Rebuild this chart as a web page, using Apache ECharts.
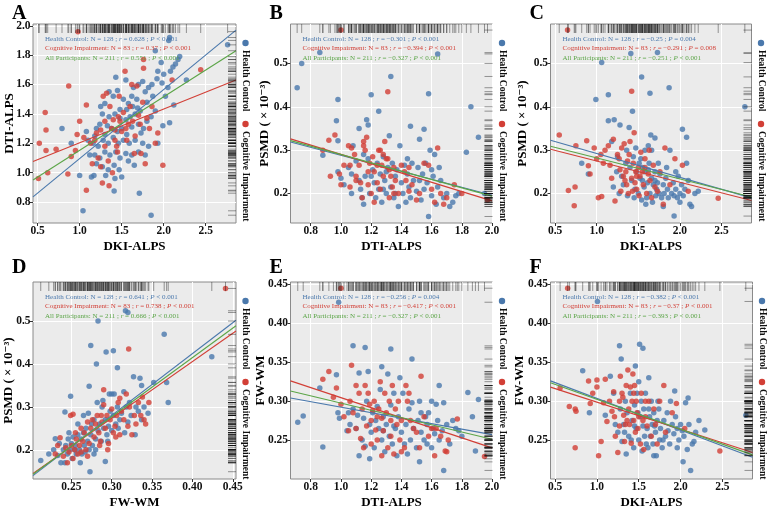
<!DOCTYPE html>
<html>
<head>
<meta charset="utf-8">
<script src="https://cdn.jsdelivr.net/npm/echarts@6/dist/echarts.min.js"></script>
<style>
html, body { margin: 0; padding: 0; background: #fff; }
#main { width: 767px; height: 510px; }
</style>
</head>
<body>
<div id="main"></div>
<script>
// ---- data ----
// A: DKI-ALPS (x) vs DTI-ALPS (y)
var hcA = [[2.76,1.87],[2.07,1.92],[2.06,1.90],[2.19,1.79],[2.17,1.77],[2.14,1.74],[2.11,1.72],[2.08,1.69],[1.97,1.75],[1.9,1.83],[1.93,1.69],[2.0,1.67],[1.92,1.64],[1.86,1.6],[1.98,1.61],[2.05,1.58],[1.82,1.58],[1.75,1.62],[1.7,1.6],[1.64,1.58],[1.78,1.55],[1.87,1.52],[2.02,1.52],[2.27,1.63],[2.12,1.46],[2.07,1.34],[1.99,1.32],
  [1.55,1.63],[1.43,1.65],[1.35,1.55],[1.4,1.52],[1.45,1.56],[1.52,1.5],[1.58,1.47],[1.63,1.45],[1.69,1.44],[1.72,1.42],[1.66,1.4],[1.6,1.38],[1.55,1.36],[1.48,1.37],[1.42,1.4],[1.35,1.38],[1.3,1.47],[1.27,1.4],[1.2,1.3],[1.24,1.33],[1.33,1.32],[1.38,1.3],[1.45,1.28],[1.5,1.3],[1.56,1.26],[1.62,1.31],[1.7,1.33],[1.76,1.3],[1.8,1.35],[1.85,1.38],[1.9,1.42],[1.73,1.27],[1.66,1.22],[1.59,1.2],[1.52,1.22],[1.46,1.2],[1.4,1.24],[1.34,1.2],[1.28,1.22],[1.22,1.18],[1.16,1.2],[1.1,1.22],[1.18,1.12],[1.24,1.1],[1.3,1.14],[1.36,1.12],[1.43,1.14],[1.48,1.1],[1.55,1.13],[1.62,1.12],[1.7,1.14],[1.78,1.12],[1.82,1.18],[1.75,1.2],[1.2,1.06],[1.27,1.04],[1.34,1.02],[1.41,1.05],[1.47,1.02],[1.5,0.97],[1.42,0.96],[1.31,0.98],[1.17,0.98],[1.14,0.97],[1.0,0.98],[0.79,1.3],[0.9,1.2],[1.08,1.28],[1.41,0.875],[1.71,0.86],[1.04,0.74],[1.85,0.71],[1.65,1.05],[1.58,1.08],[1.93,1.2],[1.3,1.26],[1.48,1.43],[1.56,1.43],[1.62,1.52],[1.18,1.25],[1.12,1.12],[1.25,1.45],[1.8,1.48],[1.68,1.5]];
var ciA = [[0.98,1.96],[0.87,1.59],[0.59,1.41],[0.6,1.29],[0.52,1.2],[0.6,1.15],[0.51,0.96],[0.62,1.0],[0.86,0.99],[0.72,1.16],[0.9,1.11],[0.95,1.15],[0.97,1.26],[1.0,1.35],[1.05,1.24],[1.08,1.46],[1.08,0.88],[1.13,1.2],[1.15,1.06],[1.2,1.27],[1.22,1.1],[1.25,1.29],[1.27,0.93],[1.28,1.52],[1.3,1.18],[1.32,1.54],[1.34,1.08],[1.35,0.91],[1.36,1.45],[1.38,1.3],[1.39,1.0],[1.4,1.36],[1.42,1.22],[1.44,1.18],[1.45,1.14],[1.46,1.38],[1.47,1.52],[1.48,1.35],[1.5,1.28],[1.52,1.41],[1.54,1.69],[1.55,1.3],[1.56,1.22],[1.58,1.33],[1.6,1.45],[1.62,1.6],[1.63,1.35],[1.65,1.13],[1.66,1.25],[1.68,1.59],[1.7,1.39],[1.72,1.33],[1.73,1.13],[1.75,1.48],[1.76,1.77],[1.76,1.71],[1.78,1.06],[1.8,1.37],[1.83,1.3],[1.86,1.45],[1.9,1.2],[1.93,1.27],[1.99,1.05],[2.1,1.63],[2.44,1.70],[1.3,1.35],[1.18,1.22],[1.42,1.29],[1.25,1.04]];

// B: DTI-ALPS (x) vs PSMD (y)
var hcB = [[0.74,0.50],[0.71,0.444],[0.86,0.525],[0.98,0.417],[0.97,0.368],[0.98,0.322],[0.88,0.288],[0.98,0.25],[1.0,0.235],[1.02,0.22],[1.05,0.26],[1.07,0.245],[1.08,0.31],[1.1,0.275],[1.12,0.35],[1.13,0.21],[1.14,0.19],[1.15,0.175],[1.16,0.24],[1.17,0.37],[1.18,0.358],[1.18,0.28],[1.19,0.2],[1.2,0.428],[1.21,0.255],[1.22,0.225],[1.23,0.19],[1.24,0.27],[1.25,0.39],[1.25,0.21],[1.26,0.245],[1.27,0.18],[1.28,0.285],[1.29,0.23],[1.3,0.2],[1.31,0.26],[1.32,0.333],[1.33,0.47],[1.33,0.215],[1.34,0.27],[1.35,0.19],[1.36,0.24],[1.37,0.255],[1.38,0.17],[1.39,0.31],[1.4,0.225],[1.41,0.2],[1.42,0.265],[1.43,0.18],[1.44,0.245],[1.45,0.215],[1.46,0.355],[1.46,0.19],[1.47,0.27],[1.48,0.23],[1.5,0.205],[1.51,0.26],[1.52,0.325],[1.53,0.185],[1.54,0.245],[1.55,0.348],[1.55,0.21],[1.56,0.27],[1.57,0.225],[1.58,0.43],[1.58,0.147],[1.59,0.3],[1.6,0.195],[1.61,0.24],[1.62,0.29],[1.63,0.175],[1.64,0.522],[1.64,0.215],[1.65,0.26],[1.66,0.23],[1.68,0.19],[1.7,0.2],[1.72,0.17],[1.74,0.18],[1.76,0.195],[1.78,0.2],[1.83,0.295],[1.86,0.4],[1.91,0.33],[1.95,0.2],[1.12,0.23],[1.2,0.24],[1.28,0.21],[1.36,0.2],[1.44,0.28],[1.52,0.23],[1.6,0.255],[1.15,0.29],[1.07,0.2],[1.3,0.25]];
var ciB = [[1.0,0.577],[1.31,0.435],[0.88,0.3],[0.92,0.323],[0.93,0.24],[0.96,0.335],[0.99,0.245],[1.0,0.22],[1.02,0.265],[1.05,0.31],[1.06,0.265],[1.07,0.305],[1.09,0.29],[1.1,0.24],[1.12,0.265],[1.13,0.225],[1.15,0.32],[1.15,0.31],[1.16,0.3],[1.17,0.33],[1.18,0.22],[1.19,0.27],[1.2,0.2],[1.21,0.285],[1.22,0.25],[1.22,0.18],[1.24,0.225],[1.25,0.3],[1.26,0.21],[1.27,0.265],[1.28,0.29],[1.28,0.24],[1.29,0.32],[1.3,0.28],[1.31,0.28],[1.32,0.19],[1.33,0.24],[1.34,0.215],[1.35,0.26],[1.36,0.23],[1.38,0.2],[1.4,0.265],[1.42,0.25],[1.43,0.23],[1.45,0.26],[1.47,0.22],[1.5,0.185],[1.52,0.2],[1.55,0.27],[1.58,0.265],[1.6,0.21],[1.62,0.18],[1.64,0.305],[1.66,0.2],[1.68,0.175],[1.7,0.19],[1.75,0.22],[1.8,0.2],[1.97,0.185],[1.1,0.23],[1.18,0.25],[1.24,0.265],[1.35,0.2],[1.26,0.3],[1.45,0.205],[1.06,0.215],[1.14,0.19],[1.32,0.255]];

// C: DKI-ALPS (x) vs PSMD (y)
var hcC = [[1.06,0.502],[1.41,0.523],[1.73,0.525],[1.54,0.469],[1.87,0.444],[1.64,0.431],[0.99,0.417],[1.14,0.428],[1.43,0.39],[2.78,0.4],[1.14,0.368],[1.21,0.37],[1.28,0.358],[1.39,0.352],[2.03,0.348],[2.08,0.33],[1.65,0.335],[1.7,0.328],[1.62,0.31],[1.18,0.32],[1.58,0.3],[0.82,0.27],[0.9,0.245],[1.93,0.148],[1.2,0.215],[1.24,0.25],[1.27,0.2],[1.3,0.24],[1.32,0.22],[1.35,0.27],[1.37,0.195],[1.4,0.26],[1.42,0.23],[1.44,0.285],[1.46,0.21],[1.48,0.25],[1.5,0.2],[1.51,0.27],[1.52,0.235],[1.54,0.185],[1.55,0.26],[1.57,0.215],[1.58,0.25],[1.6,0.19],[1.61,0.225],[1.63,0.27],[1.64,0.2],[1.66,0.235],[1.67,0.18],[1.68,0.22],[1.7,0.25],[1.71,0.195],[1.72,0.21],[1.73,0.225],[1.75,0.2],[1.76,0.245],[1.78,0.19],[1.8,0.22],[1.81,0.2],[1.83,0.235],[1.85,0.21],[1.86,0.19],[1.88,0.3],[1.9,0.2],[1.92,0.225],[1.93,0.195],[1.95,0.21],[1.97,0.19],[1.98,0.24],[2.0,0.2],[2.02,0.22],[2.04,0.195],[2.06,0.21],[2.08,0.27],[2.1,0.23],[2.12,0.175],[2.14,0.17],[2.18,0.2],[2.22,0.205],[1.47,0.305],[1.53,0.28],[1.74,0.27],[1.84,0.26],[1.95,0.25],[1.66,0.3],[1.36,0.3],[1.59,0.175],[1.8,0.17],[1.45,0.19],[1.62,0.255],[1.7,0.23],[1.55,0.23],[2.0,0.18],[1.25,0.285]];
var ciC = [[0.65,0.577],[1.42,0.436],[0.55,0.335],[2.46,0.189],[0.73,0.172],[0.66,0.207],[0.74,0.215],[0.75,0.31],[0.88,0.322],[0.9,0.264],[0.92,0.245],[0.97,0.305],[1.0,0.28],[1.02,0.19],[1.05,0.29],[1.06,0.193],[1.08,0.27],[1.1,0.3],[1.14,0.31],[1.16,0.265],[1.2,0.325],[1.22,0.183],[1.25,0.29],[1.27,0.28],[1.29,0.205],[1.3,0.305],[1.32,0.24],[1.33,0.315],[1.35,0.25],[1.36,0.22],[1.37,0.275],[1.38,0.2],[1.4,0.32],[1.42,0.235],[1.44,0.27],[1.45,0.34],[1.46,0.225],[1.47,0.25],[1.48,0.21],[1.5,0.26],[1.52,0.24],[1.53,0.295],[1.55,0.25],[1.56,0.22],[1.58,0.26],[1.6,0.2],[1.62,0.245],[1.64,0.23],[1.66,0.19],[1.68,0.265],[1.7,0.215],[1.73,0.205],[1.76,0.25],[1.8,0.175],[1.82,0.305],[1.88,0.22],[1.94,0.28],[2.03,0.265],[2.1,0.205],[1.34,0.23],[1.43,0.205],[1.51,0.195],[1.28,0.255],[1.39,0.29],[1.58,0.28],[1.63,0.3],[1.18,0.235],[1.48,0.24]];

// D: FW-WM (x) vs PSMD (y)
var hcD = [[0.283,0.5],[0.317,0.524],[0.32,0.52],[0.365,0.469],[0.274,0.443],[0.293,0.428],[0.302,0.431],[0.281,0.4],[0.307,0.391],[0.424,0.417],[0.368,0.357],[0.352,0.357],[0.37,0.31],[0.272,0.348],[0.249,0.325],[0.242,0.288],[0.212,0.175],[0.273,0.149],[0.292,0.173],[0.222,0.19],[0.228,0.2],[0.23,0.226],[0.233,0.187],[0.235,0.215],[0.237,0.17],[0.24,0.2],[0.242,0.17],[0.243,0.21],[0.245,0.19],[0.246,0.225],[0.248,0.2],[0.25,0.215],[0.251,0.18],[0.252,0.23],[0.254,0.2],[0.255,0.21],[0.256,0.19],[0.258,0.235],[0.26,0.2],[0.262,0.225],[0.263,0.19],[0.265,0.24],[0.266,0.21],[0.267,0.195],[0.268,0.25],[0.27,0.22],[0.271,0.285],[0.272,0.2],[0.274,0.235],[0.275,0.26],[0.276,0.21],[0.278,0.27],[0.28,0.225],[0.282,0.31],[0.283,0.245],[0.285,0.26],[0.287,0.22],[0.288,0.3],[0.29,0.25],[0.292,0.27],[0.294,0.235],[0.296,0.255],[0.297,0.33],[0.298,0.29],[0.3,0.33],[0.302,0.28],[0.303,0.33],[0.305,0.26],[0.307,0.3],[0.308,0.25],[0.31,0.27],[0.312,0.285],[0.315,0.335],[0.318,0.3],[0.32,0.265],[0.322,0.31],[0.324,0.28],[0.327,0.37],[0.33,0.3],[0.333,0.29],[0.335,0.367],[0.337,0.35],[0.337,0.27],[0.34,0.3],[0.345,0.285],[0.329,0.235],[0.258,0.26],[0.247,0.24],[0.28,0.2],[0.289,0.315],[0.295,0.22],[0.316,0.24],[0.265,0.28],[0.278,0.19],[0.3,0.245],[0.261,0.17]];
var ciD = [[0.441,0.576],[0.321,0.435],[0.29,0.34],[0.346,0.31],[0.338,0.323],[0.249,0.28],[0.252,0.283],[0.23,0.19],[0.233,0.21],[0.236,0.228],[0.24,0.185],[0.243,0.205],[0.245,0.17],[0.247,0.195],[0.25,0.21],[0.252,0.18],[0.254,0.2],[0.256,0.225],[0.258,0.19],[0.26,0.21],[0.262,0.25],[0.264,0.22],[0.266,0.24],[0.268,0.2],[0.27,0.265],[0.272,0.215],[0.274,0.25],[0.276,0.27],[0.278,0.23],[0.28,0.26],[0.282,0.28],[0.284,0.24],[0.286,0.22],[0.288,0.265],[0.29,0.305],[0.292,0.25],[0.294,0.28],[0.296,0.215],[0.298,0.27],[0.3,0.295],[0.302,0.24],[0.304,0.255],[0.306,0.28],[0.308,0.31],[0.31,0.235],[0.312,0.29],[0.315,0.27],[0.318,0.33],[0.32,0.255],[0.322,0.3],[0.325,0.235],[0.328,0.28],[0.33,0.26],[0.333,0.31],[0.336,0.28],[0.34,0.27],[0.342,0.26],[0.305,0.23],[0.285,0.21],[0.27,0.185],[0.295,0.2],[0.262,0.195],[0.255,0.24],[0.31,0.32],[0.287,0.28]];

// E: DTI-ALPS (x) vs FW-WM (y)
var hcE = [[0.985,0.427],[1.08,0.371],[1.16,0.369],[1.33,0.367],[1.47,0.354],[0.714,0.273],[0.75,0.281],[0.88,0.241],[0.86,0.317],[0.97,0.334],[1.84,0.311],[1.91,0.302],[1.87,0.28],[1.89,0.236],[1.68,0.211],[1.52,0.222],[1.65,0.32],[0.98,0.285],[0.99,0.278],[1.04,0.262],[1.06,0.27],[1.08,0.29],[1.1,0.265],[1.12,0.23],[1.12,0.336],[1.14,0.25],[1.15,0.278],[1.16,0.242],[1.17,0.3],[1.18,0.338],[1.19,0.27],[1.2,0.26],[1.21,0.285],[1.22,0.24],[1.23,0.275],[1.25,0.265],[1.26,0.315],[1.27,0.344],[1.27,0.25],[1.28,0.28],[1.29,0.235],[1.3,0.27],[1.31,0.335],[1.32,0.255],[1.33,0.295],[1.34,0.245],[1.35,0.31],[1.36,0.265],[1.37,0.23],[1.38,0.28],[1.39,0.33],[1.4,0.26],[1.41,0.31],[1.42,0.245],[1.43,0.27],[1.45,0.29],[1.46,0.25],[1.47,0.298],[1.48,0.265],[1.5,0.24],[1.51,0.275],[1.52,0.3],[1.53,0.26],[1.55,0.25],[1.56,0.28],[1.57,0.27],[1.58,0.285],[1.6,0.3],[1.6,0.24],[1.61,0.265],[1.62,0.258],[1.63,0.296],[1.64,0.275],[1.65,0.25],[1.67,0.262],[1.68,0.298],[1.7,0.27],[1.72,0.245],[1.74,0.275],[1.76,0.265],[1.78,0.262],[1.8,0.255],[1.24,0.293],[1.11,0.282],[1.35,0.268],[1.44,0.232],[1.53,0.285],[1.19,0.226],[1.28,0.262],[1.57,0.245],[1.05,0.285]];
var ciE = [[1.0,0.445],[1.07,0.346],[0.92,0.338],[0.88,0.328],[1.95,0.229],[1.69,0.236],[1.7,0.235],[1.71,0.25],[1.77,0.277],[1.53,0.332],[0.95,0.305],[0.97,0.317],[1.0,0.296],[1.02,0.28],[1.05,0.262],[1.06,0.3],[1.08,0.285],[1.1,0.32],[1.12,0.31],[1.13,0.252],[1.14,0.29],[1.15,0.24],[1.16,0.32],[1.17,0.268],[1.18,0.31],[1.19,0.296],[1.2,0.275],[1.21,0.288],[1.22,0.3],[1.23,0.263],[1.24,0.25],[1.25,0.29],[1.26,0.325],[1.27,0.278],[1.28,0.262],[1.29,0.31],[1.3,0.285],[1.31,0.24],[1.32,0.3],[1.33,0.275],[1.34,0.32],[1.35,0.232],[1.36,0.29],[1.37,0.27],[1.38,0.3],[1.39,0.25],[1.4,0.275],[1.42,0.24],[1.43,0.32],[1.44,0.3],[1.46,0.275],[1.48,0.265],[1.5,0.26],[1.52,0.24],[1.55,0.28],[1.58,0.255],[1.6,0.265],[1.62,0.23],[1.63,0.265],[1.66,0.255],[1.27,0.23],[1.2,0.245],[1.1,0.265],[1.45,0.31],[1.33,0.255],[1.4,0.235],[1.24,0.28]];

// F: DKI-ALPS (x) vs FW-WM (y)
var hcF = [[1.006,0.428],[1.27,0.371],[1.51,0.373],[1.55,0.368],[1.29,0.354],[0.83,0.339],[2.78,0.282],[2.12,0.211],[2.03,0.222],[1.93,0.313],[2.09,0.304],[2.29,0.263],[0.91,0.285],[1.35,0.232],[1.68,0.23],[1.1,0.282],[1.16,0.332],[1.2,0.31],[1.22,0.27],[1.25,0.26],[1.28,0.29],[1.3,0.248],[1.32,0.27],[1.34,0.3],[1.36,0.285],[1.38,0.255],[1.4,0.31],[1.42,0.275],[1.44,0.24],[1.45,0.295],[1.46,0.345],[1.47,0.265],[1.48,0.31],[1.5,0.25],[1.5,0.325],[1.52,0.28],[1.53,0.3],[1.54,0.236],[1.55,0.268],[1.56,0.29],[1.57,0.255],[1.58,0.31],[1.6,0.265],[1.61,0.24],[1.62,0.33],[1.63,0.28],[1.64,0.255],[1.65,0.3],[1.66,0.27],[1.67,0.245],[1.68,0.285],[1.7,0.26],[1.71,0.23],[1.72,0.275],[1.74,0.29],[1.75,0.25],[1.76,0.265],[1.78,0.24],[1.8,0.275],[1.82,0.255],[1.84,0.285],[1.85,0.262],[1.87,0.245],[1.9,0.27],[1.92,0.258],[1.94,0.28],[1.96,0.265],[1.98,0.25],[2.0,0.27],[2.02,0.262],[2.04,0.255],[2.06,0.298],[2.08,0.238],[2.1,0.27],[2.14,0.245],[2.18,0.26],[2.22,0.275],[2.16,0.248],[1.41,0.25],[1.59,0.245],[1.73,0.3],[1.88,0.3],[1.49,0.285],[1.62,0.29],[1.79,0.25],[1.33,0.26],[1.45,0.268],[1.69,0.268],[1.96,0.24]];
var ciF = [[0.65,0.445],[0.74,0.24],[1.02,0.23],[2.47,0.236],[0.56,0.317],[0.67,0.293],[0.74,0.29],[0.75,0.287],[0.9,0.326],[0.92,0.297],[0.95,0.31],[1.0,0.327],[1.0,0.318],[1.05,0.248],[1.08,0.298],[1.1,0.328],[1.12,0.274],[1.15,0.3],[1.18,0.287],[1.2,0.312],[1.22,0.255],[1.25,0.234],[1.27,0.268],[1.28,0.332],[1.3,0.31],[1.31,0.305],[1.32,0.282],[1.33,0.248],[1.35,0.32],[1.36,0.275],[1.37,0.34],[1.38,0.29],[1.4,0.318],[1.41,0.246],[1.42,0.3],[1.43,0.335],[1.44,0.275],[1.45,0.32],[1.46,0.26],[1.47,0.3],[1.48,0.285],[1.5,0.28],[1.52,0.245],[1.53,0.31],[1.55,0.275],[1.56,0.238],[1.58,0.28],[1.6,0.268],[1.62,0.3],[1.65,0.255],[1.68,0.29],[1.7,0.27],[1.72,0.245],[1.75,0.3],[1.8,0.32],[1.82,0.26],[1.9,0.285],[1.95,0.297],[2.05,0.265],[1.34,0.27],[1.27,0.3],[1.49,0.265],[1.39,0.27],[1.58,0.3],[1.21,0.28],[1.44,0.31]];

// fitted lines (end points): health control, cognitive impairment, all
var fitA = [[[0.445,0.835],[2.86,1.97]], [[0.445,1.075],[2.86,1.63]], [[0.445,0.95],[2.86,1.83]]];
var fitB = [[[0.666,0.319],[2.0,0.196]], [[0.666,0.326],[2.0,0.183]], [[0.666,0.322],[2.0,0.194]]];
var fitC = [[[0.445,0.323],[2.86,0.19]], [[0.445,0.302],[2.86,0.184]], [[0.445,0.309],[2.86,0.192]]];
var fitD = [[[0.2024,0.14],[0.454,0.502]], [[0.2024,0.145],[0.454,0.477]], [[0.2024,0.143],[0.454,0.489]]];
var fitE = [[[0.666,0.304],[2.0,0.257]], [[0.666,0.326],[2.0,0.240]], [[0.666,0.313],[2.0,0.251]]];
var fitF = [[[0.445,0.326],[2.86,0.228]], [[0.445,0.318],[2.86,0.234]], [[0.445,0.3235],[2.86,0.231]]];

// correlation text
var groupNames = ['Health Control', 'Cognitive Impairment', 'All Participants'];
var groupN = [128, 83, 211];
var rA = ['0.628', '0.37', '0.551'],       pA = ['< 0.001', '< 0.001', '< 0.001'];
var rB = ['\u22120.301', '\u22120.394', '\u22120.327'], pB = ['< 0.001', '< 0.001', '< 0.001'];
var rC = ['\u22120.25', '\u22120.291', '\u22120.251'],  pC = ['= 0.004', '= 0.008', '< 0.001'];
var rD = ['0.641', '0.738', '0.666'],       pD = ['< 0.001', '< 0.001', '< 0.001'];
var rE = ['\u22120.256', '\u22120.417', '\u22120.327'], pE = ['= 0.004', '< 0.001', '< 0.001'];
var rF = ['\u22120.382', '\u22120.37', '\u22120.393'],  pF = ['< 0.001', '< 0.001', '< 0.001'];

// tick labels
var ticksDKI = [0.5, 1.0, 1.5, 2.0, 2.5];
var ticksDTI = [0.8, 1.0, 1.2, 1.4, 1.6, 1.8, 2.0];
var ticksPSMD = [0.2, 0.3, 0.4, 0.5];
var ticksFW = [0.25, 0.30, 0.35, 0.40, 0.45];

// ---- drawing ----
var SERIF = '"Liberation Serif", "DejaVu Serif", serif';
var COLORS = ['#4A78AC', '#D23F36', '#5BA547'];
var PSMD_NAME = 'PSMD ( \u00d7 10\u207b\u00b3)';

var panels = [
  { tag: 'A', box: [33, 24, 203, 199], xr: [0.445, 2.86], xt: ticksDKI, xd: 1, yr: [0.657, 2.012], yt: ticksDTI, yd: 1, yg: 17,
    xn: 'DKI-ALPS', yn: 'DTI-ALPS', hc: hcA, ci: ciA, fit: fitA, r: rA, p: pA },
  { tag: 'B', box: [290.5, 24, 202, 199], xr: [0.666, 2.003], xt: ticksDTI, xd: 1, yr: [0.132, 0.591], yt: ticksPSMD, yd: 1, yg: 19,
    xn: 'DTI-ALPS', yn: PSMD_NAME, hc: hcB, ci: ciB, fit: fitB, r: rB, p: pB },
  { tag: 'C', box: [550.5, 24, 201, 199], xr: [0.445, 2.86], xt: ticksDKI, xd: 1, yr: [0.132, 0.591], yt: ticksPSMD, yd: 1, yg: 21,
    xn: 'DKI-ALPS', yn: PSMD_NAME, hc: hcC, ci: ciC, fit: fitC, r: rC, p: pC },
  { tag: 'D', box: [33, 282, 203, 197], xr: [0.2024, 0.454], xt: ticksFW, xd: 2, yr: [0.132, 0.591], yt: ticksPSMD, yd: 1, yg: 18,
    xn: 'FW-WM', yn: PSMD_NAME, hc: hcD, ci: ciD, fit: fitD, r: rD, p: pD },
  { tag: 'E', box: [290.5, 282, 202, 197], xr: [0.666, 2.003], xt: ticksDTI, xd: 1, yr: [0.20, 0.453], yt: ticksFW, yd: 2, yg: 23,
    xn: 'DTI-ALPS', yn: 'FW-WM', hc: hcE, ci: ciE, fit: fitE, r: rE, p: pE },
  { tag: 'F', box: [550.5, 282, 202, 197], xr: [0.445, 2.86], xt: ticksDKI, xd: 1, yr: [0.20, 0.453], yt: ticksFW, yd: 2, yg: 24,
    xn: 'DKI-ALPS', yn: 'FW-WM', hc: hcF, ci: ciF, fit: fitF, r: rF, p: pF }
];

function axisOf(i, range, ticks, digits, name, gap) {
  return {
    gridIndex: i, type: 'value', min: range[0], max: range[1],
    name: name, nameLocation: 'middle', nameGap: gap, nameMoveOverlap: false,
    nameTextStyle: { fontFamily: SERIF, fontWeight: 'bold', fontSize: 13, color: '#000' },
    axisLine: { show: false },
    axisTick: { show: true, length: 3, customValues: ticks, lineStyle: { color: '#333', width: 1 } },
    axisLabel: { customValues: ticks, margin: 2.5, fontFamily: SERIF, fontWeight: 'bold', fontSize: 11.5, color: '#111',
      formatter: function (v) { return v.toFixed(digits); } },
    splitLine: { show: true, lineStyle: { color: '#fff', width: 1 } }
  };
}

function rug(i, pts, side) {
  return {
    type: 'custom', xAxisIndex: i, yAxisIndex: i, silent: true, z: 4, data: pts,
    renderItem: function (params, api) {
      var cs = params.coordSys;
      var c = api.coord([api.value(0), api.value(1)]);
      var shape = side === 'top'
        ? { x1: c[0], y1: cs.y, x2: c[0], y2: cs.y + 9 }
        : { x1: cs.x + cs.width - 8, y1: c[1], x2: cs.x + cs.width, y2: c[1] };
      return { type: 'line', shape: shape, style: { stroke: '#111', lineWidth: 0.6, opacity: 0.7 } };
    }
  };
}

var grids = [], xAxes = [], yAxes = [], series = [], graphics = [];
panels.forEach(function (pn, i) {
  var L = pn.box[0], T = pn.box[1], W = pn.box[2], H = pn.box[3];
  grids.push({ left: L, top: T, width: W, height: H, show: true, backgroundColor: '#EBEBEB',
    borderColor: '#8a8a8a', borderWidth: 1, outerBoundsMode: 'none', containLabel: false });
  xAxes.push(axisOf(i, pn.xr, pn.xt, pn.xd, pn.xn, 17));
  yAxes.push(axisOf(i, pn.yr, pn.yt, pn.yd, pn.yn, pn.yg));

  series.push({ type: 'scatter', xAxisIndex: i, yAxisIndex: i, data: pn.hc, symbolSize: 5.5, silent: true,
    itemStyle: { color: COLORS[0] } });
  series.push({ type: 'scatter', xAxisIndex: i, yAxisIndex: i, data: pn.ci, symbolSize: 5.5, silent: true,
    itemStyle: { color: COLORS[1] } });
  pn.fit.forEach(function (seg, k) {
    series.push({ type: 'line', xAxisIndex: i, yAxisIndex: i, data: seg, showSymbol: false, silent: true, z: 3,
      lineStyle: { color: COLORS[k], width: 1.1 } });
  });
  var all = pn.hc.concat(pn.ci);
  series.push(rug(i, all, 'top'));
  series.push(rug(i, all, 'right'));

  // panel letter
  graphics.push({ type: 'text', x: L - 21, y: T - (i < 3 ? 10 : 14), silent: true,
    style: { text: pn.tag, fontFamily: SERIF, fontWeight: 'bold', fontSize: 20, fill: '#000',
      align: 'left', verticalAlign: 'middle', textAlign: 'left', textVerticalAlign: 'middle' } });

  // correlation annotation
  for (var k = 0; k < 3; k++) {
    graphics.push({ type: 'text', x: L + 12, y: T + 15 + k * 9.5, silent: true, z: 10,
      style: {
        text: groupNames[k] + ': N = ' + groupN[k] + ' ; {i|r} = ' + pn.r[k] + ' ; {i|P} ' + pn.p[k],
        fontFamily: SERIF, fontSize: 7, fill: COLORS[k],
        align: 'left', verticalAlign: 'middle', textAlign: 'left', textVerticalAlign: 'middle',
        rich: { i: { fontFamily: SERIF, fontSize: 7, fontStyle: 'italic', fill: COLORS[k], color: COLORS[k] } }
      } });
  }

  // side legend
  var lx = L + W + 9.5;
  [[T + 19, groupNames[0]], [T + 100, groupNames[1]]].forEach(function (it, k) {
    graphics.push({ type: 'circle', silent: true, shape: { cx: lx, cy: it[0], r: 3.2 }, style: { fill: COLORS[k] } });
    graphics.push({ type: 'text', x: lx, y: it[0] + 7, rotation: -Math.PI / 2, silent: true,
      style: { text: it[1], fontFamily: SERIF, fontWeight: 'bold', fontSize: 9.5, fill: '#111',
        align: 'left', verticalAlign: 'middle', textAlign: 'left', textVerticalAlign: 'middle' } });
  });
});

var chart = echarts.init(document.getElementById('main'), null, { renderer: 'canvas' });
chart.setOption({
  animation: false,
  backgroundColor: '#fff',
  grid: grids,
  xAxis: xAxes,
  yAxis: yAxes,
  series: series,
  graphic: { elements: graphics }
});
</script>
</body>
</html>
